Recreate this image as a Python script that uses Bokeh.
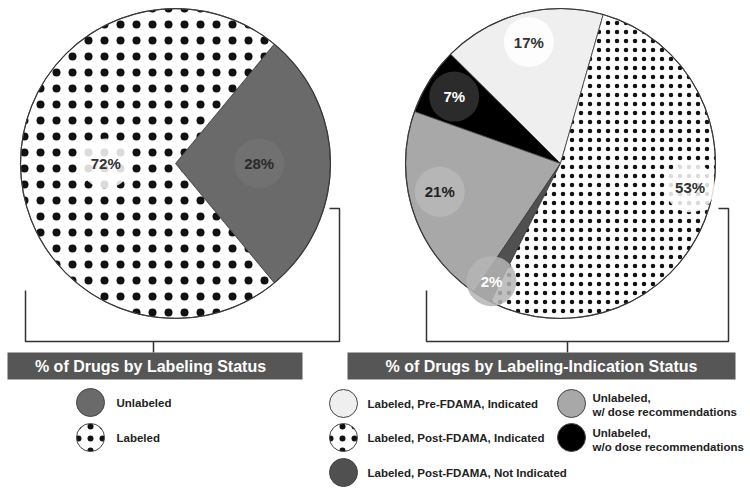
import numpy as np
from bokeh.plotting import figure
from bokeh.models import Range1d, ColumnDataSource
from bokeh.core.properties import value
from bokeh.embed import file_html
from bokeh.resources import INLINE

# ---------------- data ----------------
left_labels = ["Unlabeled", "Labeled"]
left_values = [28, 72]
left_colors = ["#6a6a6a", "#ffffff"]
left_hatch = [" ", "."]

right_labels = ["Labeled, Pre-FDAMA, Indicated",
                "Unlabeled, w/o dose recommendations",
                "Unlabeled, w/ dose recommendations",
                "Labeled, Post-FDAMA, Not Indicated",
                "Labeled, Post-FDAMA, Indicated"]
right_values = [17, 7, 21, 2, 53]
right_colors = ["#efefef", "#000000", "#a8a8a8", "#505050", "#ffffff"]
right_hatch = [" ", " ", " ", " ", "."]

left_title = "% of Drugs by Labeling Status"
right_title = "% of Drugs by Labeling-Indication Status"

FONT = value("Liberation Sans")

W, H = 750, 491
p = figure(width=W, height=H, output_backend="svg", toolbar_location=None,
           x_range=Range1d(0, W), y_range=Range1d(0, H),
           min_border=0, outline_line_color=None)
p.axis.visible = False
p.grid.visible = False
p.background_fill_color = "white"
p.border_fill_color = "white"


def Y(img_y):
    return H - img_y


def pie(cx, cy, r, values, colors, hatches, start_deg, hatch_scale,
        lab_frac, lab_adj, lab_circ, lab_txt):
    vals = np.array(values, dtype=float)
    frac = vals / vals.sum()
    ends = np.cumsum(frac) * 2 * np.pi + np.radians(start_deg)
    starts = ends - frac * 2 * np.pi
    src = ColumnDataSource(dict(s=starts, e=ends, c=colors, h=hatches,
                                x=[cx] * len(vals), y=[Y(cy)] * len(vals)))
    p.wedge(x="x", y="y", radius=r, start_angle="s", end_angle="e",
            fill_color="c", line_color="#3a3a3a", line_width=0.8,
            hatch_pattern="h", hatch_color="#111111", hatch_scale=hatch_scale,
            hatch_weight=1, source=src)
    p.circle(x=[cx], y=[Y(cy)], radius=r, fill_color=None,
             line_color="#3a3a3a", line_width=1.2)
    mids = (starts + ends) / 2 + np.radians(lab_adj)
    lx = cx + r * np.array(lab_frac) * np.cos(mids)
    ly = Y(cy) + r * np.array(lab_frac) * np.sin(mids)
    lsrc = ColumnDataSource(dict(x=lx, y=ly, cc=lab_circ, tc=lab_txt,
                                 t=["%d%%" % v for v in values]))
    p.circle(x="x", y="y", radius=25, fill_color="cc", line_color=None,
             fill_alpha=0.85, source=lsrc)
    p.text(x="x", y="y", text="t", text_color="tc", text_font=FONT,
           text_font_style="bold", text_font_size=value("15px"),
           text_align="center", text_baseline="middle", source=lsrc)


pie(175, 163, 155, left_values, left_colors, left_hatch, -50.4, 16,
    [0.54, 0.45], [0, 0], ["#727272", "#ffffff"], ["#2a2a2a", "#333333"])
pie(560, 163, 155, right_values, right_colors, right_hatch, 74, 9,
    [0.81, 0.81, 0.8, 0.88, 0.85], [0, 0, -5, 0, 11],
    ["#ffffff", "#333333", "#b8b8b8", "#b5b5b5", "#ffffff"],
    ["#333333", "#ffffff", "#222222", "#ffffff", "#333333"])

# brackets
bc = "#333333"
p.line(x=[25, 25, 339, 339, 329], y=[Y(290), Y(341), Y(341), Y(208), Y(208)],
       line_color=bc, line_width=1.5)
p.line(x=[153, 153], y=[Y(341), Y(352)], line_color=bc, line_width=1.5)
p.line(x=[426, 426, 728, 728, 718], y=[Y(290), Y(341), Y(341), Y(208), Y(208)],
       line_color=bc, line_width=1.5)
p.line(x=[567, 567], y=[Y(341), Y(352)], line_color=bc, line_width=1.5)

# title boxes
p.quad(left=[7, 347], right=[302, 735], top=[Y(352), Y(352)],
       bottom=[Y(379), Y(379)], fill_color="#565656", line_color=None)
p.text(x=[150, 541], y=[Y(365.5), Y(365.5)], text=[left_title, right_title],
       text_color="white", text_font=FONT, text_font_style="bold",
       text_font_size=value("16px"), text_align="center",
       text_baseline="middle")

# legends
leg_x = [90, 90, 343, 343, 343, 571, 571]
leg_y = [402, 437, 403, 437, 472, 403, 437]
leg_fill = [left_colors[0], left_colors[1], right_colors[0], right_colors[4],
            right_colors[3], right_colors[2], right_colors[1]]
leg_hatch = [left_hatch[0], left_hatch[1], right_hatch[0], ".", right_hatch[3],
             right_hatch[2], right_hatch[1]]
lsrc = ColumnDataSource(dict(x=leg_x, y=[Y(v) for v in leg_y], f=leg_fill,
                             h=leg_hatch))
p.circle(x="x", y="y", radius=14, fill_color="f", line_color="#444444",
         line_width=1, hatch_pattern="h", hatch_color="#111111",
         hatch_scale=12, source=lsrc)

leg_text = ["Unlabeled", "Labeled", right_labels[0], right_labels[4],
            right_labels[3], "Unlabeled,", "w/ dose recommendations",
            "Unlabeled,", "w/o dose recommendations"]
tx = [116, 116, 367, 367, 367, 592, 592, 592, 592]
ty = [402, 437, 403, 437, 472, 397, 411, 432, 446]
p.text(x=tx, y=[Y(v) for v in ty], text=leg_text, text_color="#222222",
       text_font=FONT, text_font_style="bold", text_font_size=value("11.5px"),
       text_align="left", text_baseline="middle")

open("out.html", "w").write(file_html(p, INLINE))
